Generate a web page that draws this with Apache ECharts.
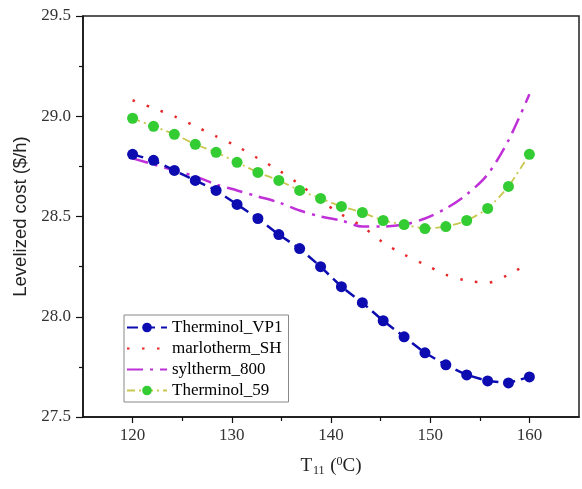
<!DOCTYPE html>
<html>
<head>
<meta charset="utf-8">
<script src="https://cdn.jsdelivr.net/npm/echarts@6/dist/echarts.min.js"></script>
<style>
html,body{margin:0;padding:0;background:#fff;}
#chart{width:582px;height:489px;}
</style>
</head>
<body>
<div id="chart"></div>
<script>
// Data
const temps = [120, 122.11, 124.21, 126.32, 128.42, 130.53, 132.63, 134.74, 136.84, 138.95,
               141.05, 143.16, 145.26, 147.37, 149.47, 151.58, 153.68, 155.79, 157.89, 160];
const therminolVP1 = [28.81, 28.78, 28.73, 28.68, 28.63, 28.56, 28.49, 28.41, 28.34, 28.25,
                      28.15, 28.07, 27.98, 27.90, 27.82, 27.76, 27.71, 27.68, 27.67, 27.70];
const marlothermSH = [29.08, 29.04, 29.00, 28.95, 28.90, 28.85, 28.79, 28.73, 28.66, 28.58,
                      28.51, 28.45, 28.37, 28.31, 28.26, 28.21, 28.18, 28.17, 28.21, 28.27];
const syltherm800 = [28.79, 28.76, 28.73, 28.70, 28.66, 28.63, 28.60, 28.57, 28.53, 28.50,
                     28.48, 28.45, 28.45, 28.46, 28.49, 28.54, 28.61, 28.71, 28.88, 29.11];
const therminol59 = [28.99, 28.95, 28.91, 28.86, 28.82, 28.77, 28.72, 28.68, 28.63, 28.59,
                     28.55, 28.52, 28.48, 28.46, 28.44, 28.45, 28.48, 28.54, 28.65, 28.81];
const seriesNames = ['Therminol_VP1', 'marlotherm_SH', 'syltherm_800', 'Therminol_59'];
const yTitle = 'Levelized cost ($/h)';

const pairs = (ys) => temps.map((t, i) => [t, ys[i]]);

const serif = 'Liberation Serif';
const chart = echarts.init(document.getElementById('chart'), null, {renderer: 'canvas'});
chart.setOption({
  animation: false,
  backgroundColor: '#fff',
  grid: [
    {left: 83, right: 3, top: 16, bottom: 72, show: true, borderColor: '#222', borderWidth: 1.5, backgroundColor: 'transparent'},
    {left: 132.6, right: 52.6, top: 16, bottom: 72, show: false}
  ],
  xAxis: [
    {
      type: 'value', gridIndex: 0, min: 115, max: 165, interval: 5,
      axisLine: {show: true, lineStyle: {color: '#111', width: 1.5}},
      axisTick: {show: false},
      axisLabel: {show: false},
      splitLine: {show: false},
      name: '{t|T}{sub|11}{t| (}{sup|0}{t|C)}',
      nameLocation: 'middle', nameGap: 38,
      nameTextStyle: {
        rich: {
          t: {fontFamily: serif, fontSize: 19, color: '#222', lineHeight: 22},
          sub: {fontFamily: serif, fontSize: 12, color: '#222', lineHeight: 14, padding: [9, 1, 0, 1]},
          sup: {fontFamily: serif, fontSize: 12, color: '#222', lineHeight: 14, padding: [0, 0, 9, 0]}
        }
      }
    },
    {
      type: 'value', gridIndex: 1, min: 120, max: 160, interval: 10,
      axisLine: {show: false},
      axisTick: {show: true, length: 6, lineStyle: {color: '#111', width: 1.2}},
      minorTick: {show: true, splitNumber: 2, length: 4, lineStyle: {color: '#111', width: 1.2}},
      axisLabel: {fontFamily: serif, fontSize: 17, color: '#333', margin: 10},
      splitLine: {show: false}
    }
  ],
  yAxis: [
    {
      type: 'value', gridIndex: 0, min: 27.5, max: 29.5, interval: 0.5,
      axisLine: {show: true, lineStyle: {color: '#111', width: 1.5}},
      axisTick: {show: true, length: 7, lineStyle: {color: '#111', width: 1.2}},
      minorTick: {show: true, splitNumber: 2, length: 4, lineStyle: {color: '#111', width: 1.2}},
      axisLabel: {fontFamily: serif, fontSize: 17, color: '#333', margin: 12, formatter: (v) => v.toFixed(1)},
      splitLine: {show: false},
      name: yTitle, nameLocation: 'middle', nameGap: 43, nameRotate: 90,
      nameTextStyle: {fontFamily: 'Liberation Sans', fontSize: 18.5, color: '#222'}
    },
    {type: 'value', gridIndex: 1, min: 0, max: 1, show: false}
  ],
  legend: {
    orient: 'vertical', left: 124, top: 315,
    itemWidth: 40, itemHeight: 12, itemGap: 4,
    padding: [4, 6, 3, 2],
    borderColor: '#888', borderWidth: 1, backgroundColor: '#fff',
    textStyle: {fontFamily: serif, fontSize: 17, color: '#000', lineHeight: 17},
    data: [
      {name: seriesNames[0]},
      {name: seriesNames[1], itemStyle: {opacity: 0}},
      {name: seriesNames[2], itemStyle: {opacity: 0}},
      {name: seriesNames[3]}
    ]
  },
  series: [
    {
      name: seriesNames[1], type: 'line', data: pairs(marlothermSH), smooth: 0.3,
      symbol: 'none', xAxisIndex: 0, yAxisIndex: 0,
      lineStyle: {color: '#e82828', width: 2.5, type: [2.5, 12.5]},
      itemStyle: {color: '#e82828'}
    },
    {
      name: seriesNames[2], type: 'line', data: pairs(syltherm800), smooth: 0.3,
      symbol: 'none', xAxisIndex: 0, yAxisIndex: 0,
      lineStyle: {color: '#c030d8', width: 2.5, type: [16, 7, 3, 7]},
      itemStyle: {color: '#c030d8'}
    },
    {
      name: seriesNames[3], type: 'line', data: pairs(therminol59), smooth: 0.2,
      symbol: 'circle', symbolSize: 11, xAxisIndex: 0, yAxisIndex: 0,
      lineStyle: {color: '#c8c850', width: 1.8, type: [8, 4, 2, 4]},
      itemStyle: {color: '#33cc33'}
    },
    {
      name: seriesNames[0], type: 'line', data: pairs(therminolVP1), smooth: false,
      symbol: 'circle', symbolSize: 11, xAxisIndex: 0, yAxisIndex: 0,
      lineStyle: {color: '#0c0cb0', width: 2.5, type: [11, 6]},
      itemStyle: {color: '#0c0cb0'}
    }
  ]
});
</script>
</body>
</html>
